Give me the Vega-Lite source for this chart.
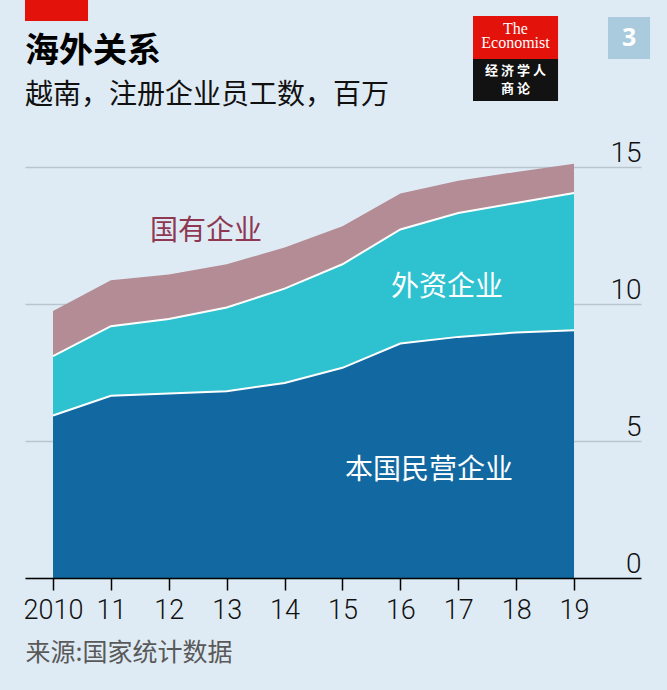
{
  "$schema": "https://vega.github.io/schema/vega-lite/v6.json",
  "width": 616,
  "height": 411,
  "autosize": {"type": "none"},
  "padding": {"left": 25, "top": 167, "right": 26, "bottom": 112},
  "background": "#dfebf4",
  "config": {"view": {"stroke": null}},
  "title": {
    "text": "海外关系",
    "subtitle": "越南，注册企业员工数，百万",
    "anchor": "start",
    "frame": "group",
    "orient": "top",
    "font": "Noto Sans CJK SC",
    "fontSize": 34,
    "fontWeight": "bold",
    "color": "#000000",
    "subtitleFont": "Noto Sans CJK SC",
    "subtitleFontSize": 28,
    "subtitleColor": "#111111",
    "subtitlePadding": 13,
    "offset": -110
  },
  "resolve": {"scale": {"color": "independent"}},
  "datasets": {
    "emp": [
      {"year": 2010, "type": "本国民营企业", "value": 5.93},
      {"year": 2011, "type": "本国民营企业", "value": 6.65},
      {"year": 2012, "type": "本国民营企业", "value": 6.73},
      {"year": 2013, "type": "本国民营企业", "value": 6.82},
      {"year": 2014, "type": "本国民营企业", "value": 7.12},
      {"year": 2015, "type": "本国民营企业", "value": 7.67},
      {"year": 2016, "type": "本国民营企业", "value": 8.56},
      {"year": 2017, "type": "本国民营企业", "value": 8.80},
      {"year": 2018, "type": "本国民营企业", "value": 8.96},
      {"year": 2019, "type": "本国民营企业", "value": 9.04},
      {"year": 2010, "type": "外资企业", "value": 2.17},
      {"year": 2011, "type": "外资企业", "value": 2.54},
      {"year": 2012, "type": "外资企业", "value": 2.72},
      {"year": 2013, "type": "外资企业", "value": 3.05},
      {"year": 2014, "type": "外资企业", "value": 3.44},
      {"year": 2015, "type": "外资企业", "value": 3.78},
      {"year": 2016, "type": "外资企业", "value": 4.16},
      {"year": 2017, "type": "外资企业", "value": 4.52},
      {"year": 2018, "type": "外资企业", "value": 4.73},
      {"year": 2019, "type": "外资企业", "value": 5.01},
      {"year": 2010, "type": "国有企业", "value": 1.64},
      {"year": 2011, "type": "国有企业", "value": 1.68},
      {"year": 2012, "type": "国有企业", "value": 1.63},
      {"year": 2013, "type": "国有企业", "value": 1.58},
      {"year": 2014, "type": "国有企业", "value": 1.50},
      {"year": 2015, "type": "国有企业", "value": 1.39},
      {"year": 2016, "type": "国有企业", "value": 1.31},
      {"year": 2017, "type": "国有企业", "value": 1.18},
      {"year": 2018, "type": "国有企业", "value": 1.13},
      {"year": 2019, "type": "国有企业", "value": 1.07}
    ],
    "labels": [
      {"t": "国有企业", "x": 2012.643, "y": 12.63},
      {"t": "外资企业", "x": 2016.806, "y": 10.58},
      {"t": "本国民营企业", "x": 2016.495, "y": 3.89}
    ],
    "boxes": [
      {"part": "bar", "x": 2009.516, "x2": 2010.605, "y": 21.095, "y2": 20.328},
      {"part": "logoTop", "x": 2017.255, "x2": 2018.724, "y": 20.511, "y2": 18.942},
      {"part": "logoBottom", "x": 2017.255, "x2": 2018.724, "y": 18.942, "y2": 17.409},
      {"part": "box", "x": 2019.587, "x2": 2020.313, "y": 20.474, "y2": 18.942}
    ]
  },
  "layer": [
    {
      "data": {"name": "emp"},
      "mark": {"type": "area", "interpolate": "linear"},
      "encoding": {
        "x": {
          "field": "year", "type": "quantitative",
          "scale": {"domain": [2009.5163, 2020.157], "nice": false, "zero": false},
          "axis": {
            "values": [2010, 2011, 2012, 2013, 2014, 2015, 2016, 2017, 2018, 2019],
            "labelExpr": "datum.value == 2010 ? '2010' : slice(format(datum.value, 'd'), 2)",
            "grid": false,
            "domainColor": "#000000", "domainWidth": 1.5,
            "tickColor": "#000000", "tickWidth": 1.5, "tickSize": 12,
            "labelFont": "Roboto", "labelFontWeight": 300,
            "labelFontSize": 27, "labelColor": "#111111", "labelPadding": 7,
            "labelFlush": false, "labelOverlap": false, "labelBound": false,
            "title": "来源:国家统计数据",
            "titleFont": "Noto Sans CJK SC", "titleFontSize": 25, "titleFontWeight": "normal",
            "titleColor": "#595959", "titleAnchor": "start", "titleAlign": "left", "titlePadding": 17,
            "zindex": 1
          }
        },
        "y": {
          "field": "value", "type": "quantitative", "stack": "zero",
          "scale": {"domain": [0, 15], "nice": false},
          "axis": {
            "orient": "right", "values": [0, 5, 10, 15],
            "domain": false, "ticks": false, "tickSize": 0,
            "grid": true, "gridColor": "#b8c5ce", "gridWidth": 1.5,
            "labelAlign": "right", "labelBaseline": "alphabetic",
            "labelPadding": 0, "labelOffset": -6,
            "labelFont": "Roboto", "labelFontWeight": 300,
            "labelFontSize": 28, "labelColor": "#111111", "labelFlush": false,
            "title": null
          }
        },
        "color": {
          "field": "type", "type": "nominal",
          "scale": {"domain": ["本国民营企业", "外资企业", "国有企业"], "range": ["#1268a0", "#2ec1cf", "#b38c96"]},
          "legend": null
        },
        "order": {"field": "type", "sort": "descending"}
      }
    },
    {
      "data": {"name": "emp"},
      "transform": [
        {"filter": "datum.type !== '国有企业'"},
        {"stack": "value", "groupby": ["year"], "sort": [{"field": "type", "order": "descending"}], "as": ["v0", "v1"]}
      ],
      "mark": {"type": "line", "color": "#ffffff", "strokeWidth": 2},
      "encoding": {
        "x": {"field": "year", "type": "quantitative"},
        "y": {"field": "v1", "type": "quantitative"},
        "detail": {"field": "type"}
      }
    },
    {
      "data": {"name": "labels"},
      "mark": {"type": "text", "font": "Noto Sans CJK SC", "fontSize": 28, "align": "center", "baseline": "middle"},
      "encoding": {
        "x": {"field": "x", "type": "quantitative"},
        "y": {"field": "y", "type": "quantitative"},
        "text": {"field": "t"},
        "color": {"field": "t", "type": "nominal", "scale": {"domain": ["国有企业", "外资企业", "本国民营企业"], "range": ["#8e3852", "#ffffff", "#ffffff"]}, "legend": null}
      }
    },
    {
      "data": {"name": "boxes"},
      "mark": {"type": "rect"},
      "encoding": {
        "x": {"field": "x", "type": "quantitative"},
        "x2": {"field": "x2"},
        "y": {"field": "y", "type": "quantitative"},
        "y2": {"field": "y2"},
        "color": {"field": "part", "type": "nominal", "scale": {"domain": ["bar", "logoTop", "logoBottom", "box"], "range": ["#e3120b", "#e3120b", "#121212", "#a9cbdd"]}, "legend": null}
      }
    },
    {
      "data": {"values": [{"t": "The", "x": 2017.989, "y": 20.03}, {"t": "Economist", "x": 2017.989, "y": 19.52}]},
      "mark": {"type": "text", "font": "Liberation Serif, DejaVu Serif, serif", "fontSize": 16, "color": "#ffffff", "align": "center", "baseline": "middle"},
      "encoding": {
        "x": {"field": "x", "type": "quantitative"},
        "y": {"field": "y", "type": "quantitative"},
        "text": {"field": "t"}
      }
    },
    {
      "data": {"values": [{"t": "经 济 学 人", "x": 2017.989, "y": 18.50}, {"t": "商 论", "x": 2017.989, "y": 17.85}]},
      "mark": {"type": "text", "font": "Noto Sans CJK SC", "fontSize": 13, "fontWeight": "bold", "color": "#ffffff", "align": "center", "baseline": "middle"},
      "encoding": {
        "x": {"field": "x", "type": "quantitative"},
        "y": {"field": "y", "type": "quantitative"},
        "text": {"field": "t"}
      }
    },
    {
      "data": {"values": [{"t": "3", "x": 2019.950, "y": 19.71}]},
      "mark": {"type": "text", "font": "Open Sans", "fontSize": 25, "fontWeight": "bold", "color": "#ffffff", "align": "center", "baseline": "middle"},
      "encoding": {
        "x": {"field": "x", "type": "quantitative"},
        "y": {"field": "y", "type": "quantitative"},
        "text": {"field": "t"}
      }
    }
  ]
}
